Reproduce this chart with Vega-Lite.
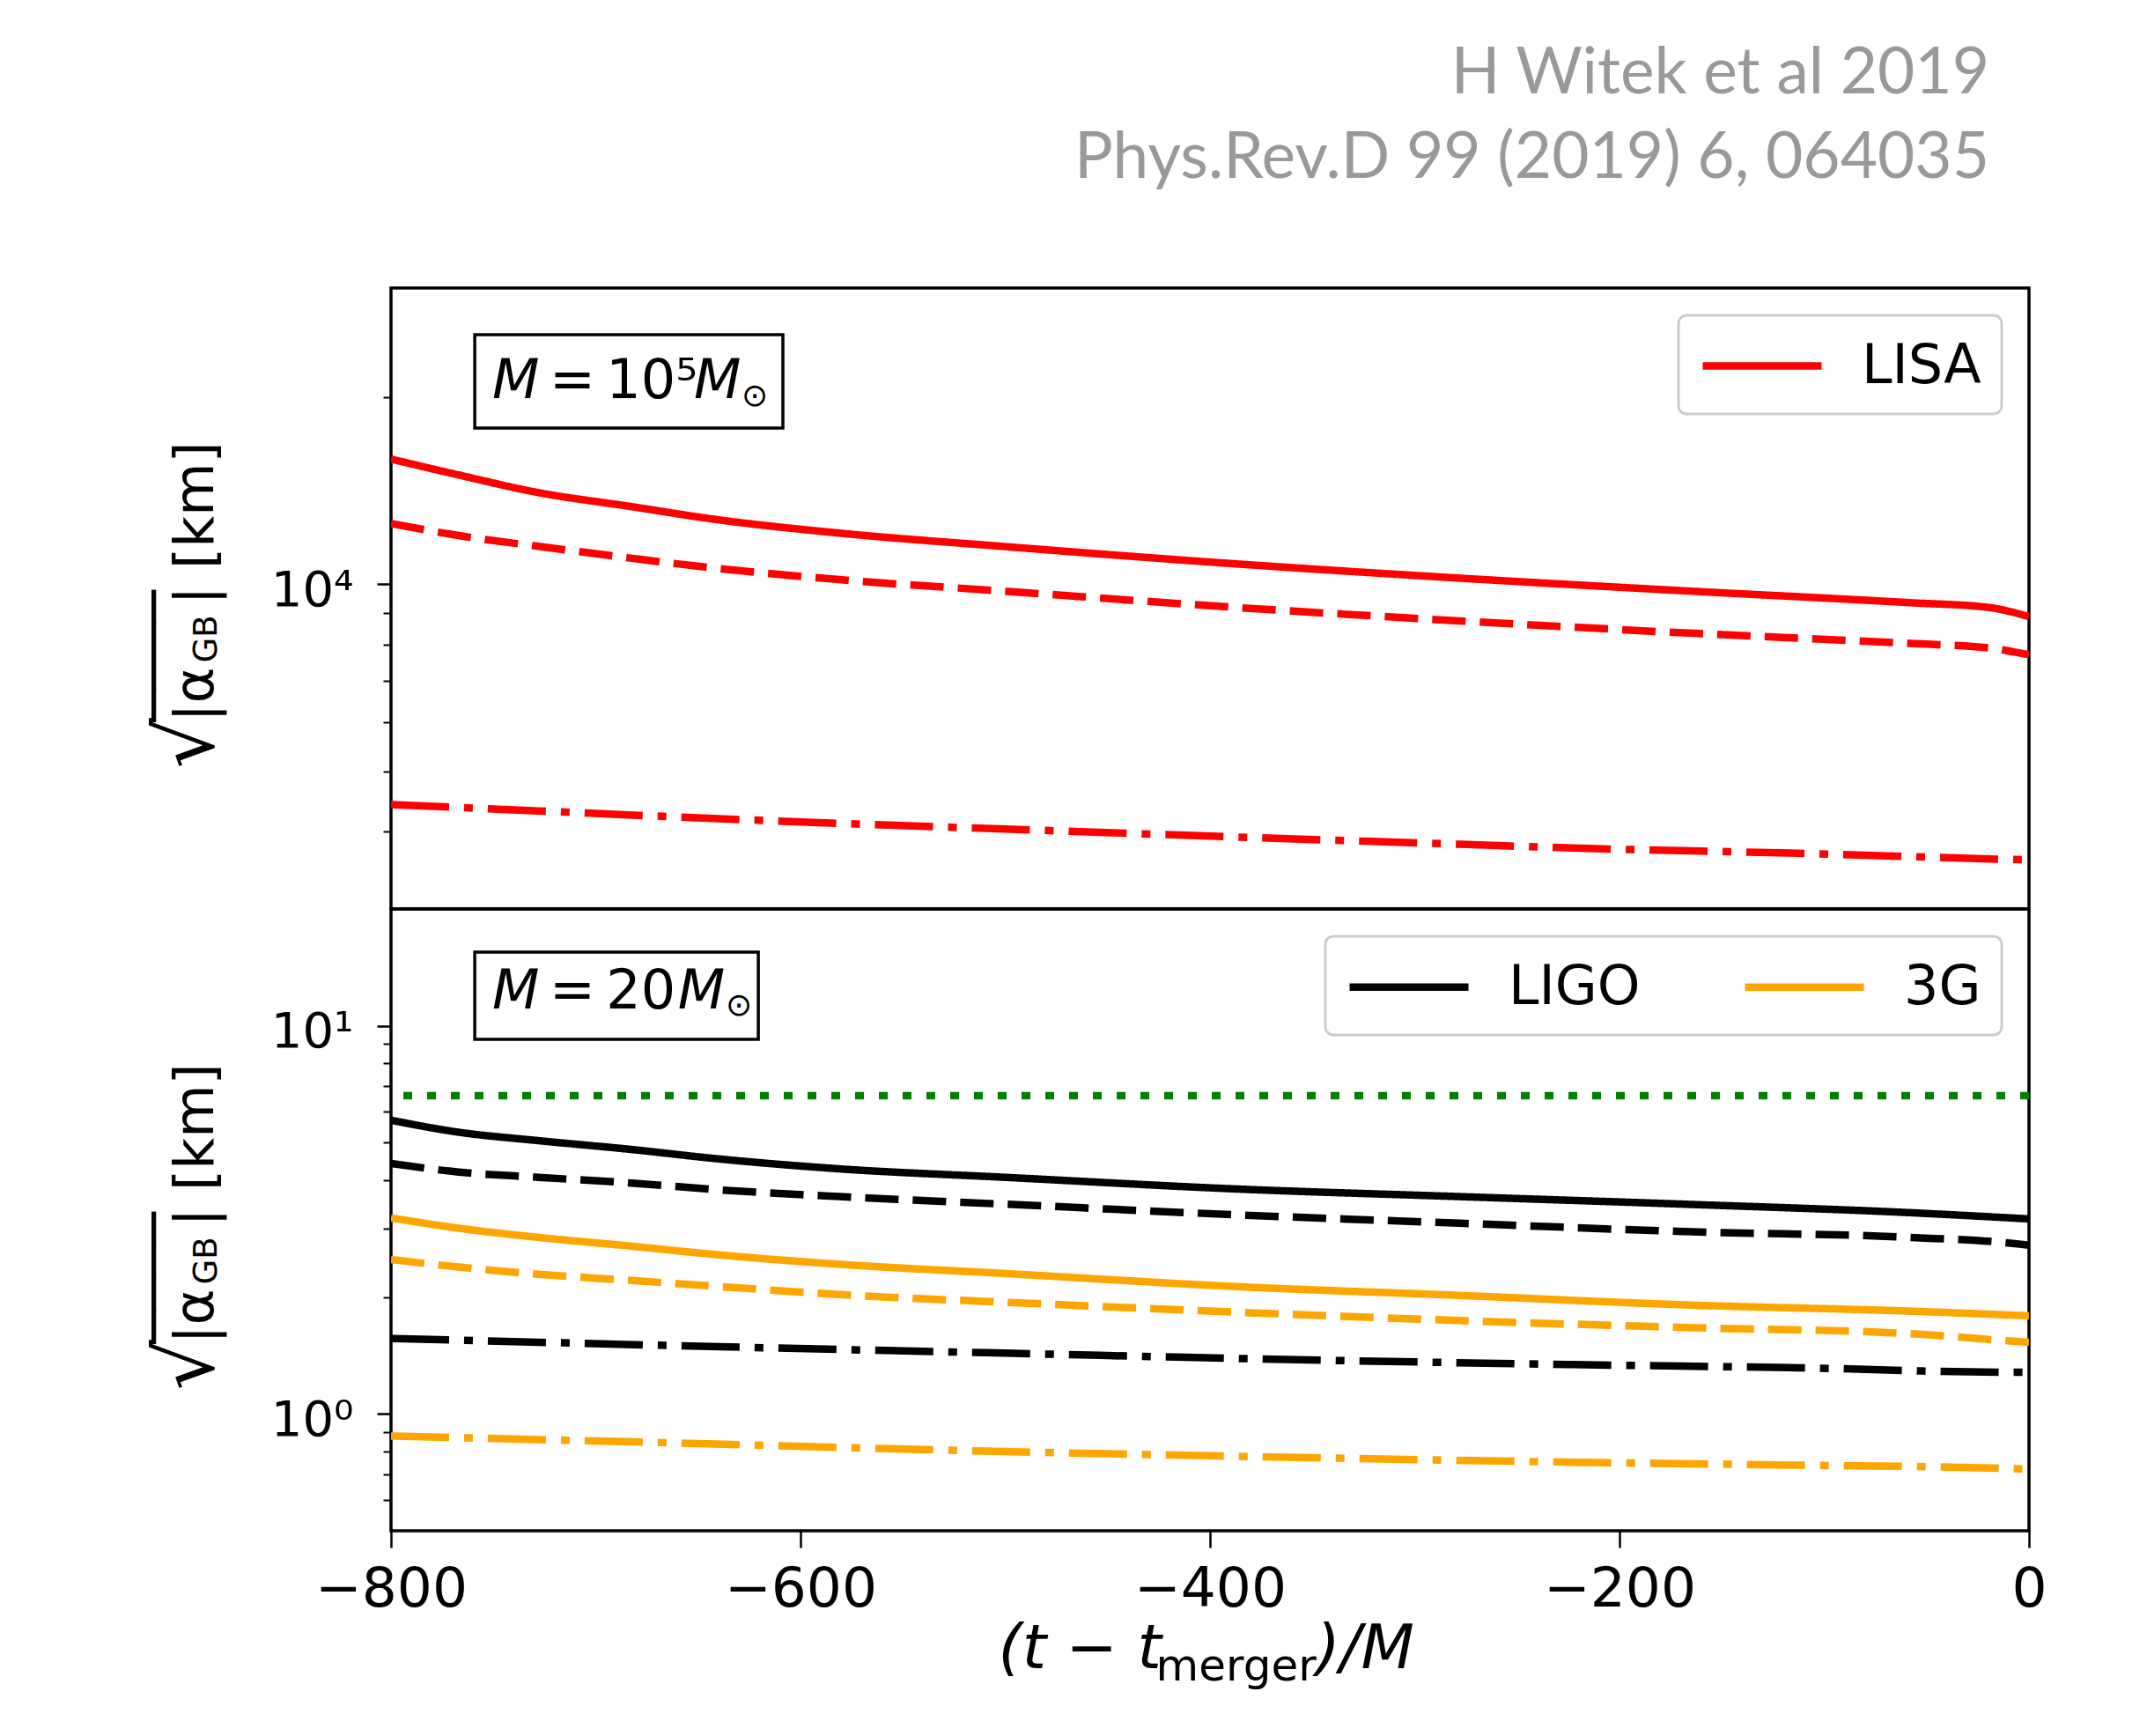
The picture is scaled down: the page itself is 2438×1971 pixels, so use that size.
{
  "$schema": "https://vega.github.io/schema/vega-lite/v6.json",
  "padding": {"left": 143, "top": 48, "right": 10, "bottom": 10},
  "background": "white",
  "title": {
    "text": ["H Witek et al 2019", "Phys.Rev.D 99 (2019) 6, 064035"],
    "anchor": "end",
    "frame": "group",
    "font": "Lato",
    "fontSize": 73,
    "fontWeight": "normal",
    "color": "#999999",
    "lineHeight": 96,
    "baseline": "alphabetic",
    "offset": 50,
    "dx": -45
  },
  "datasets": {
    "top": [
      {"det": "LISA", "style": "solid", "t": -800, "v": 15910},
      {"det": "LISA", "style": "solid", "t": -767, "v": 15000},
      {"det": "LISA", "style": "solid", "t": -728, "v": 14050},
      {"det": "LISA", "style": "solid", "t": -684, "v": 13360},
      {"det": "LISA", "style": "solid", "t": -640, "v": 12700},
      {"det": "LISA", "style": "solid", "t": -581, "v": 12090},
      {"det": "LISA", "style": "solid", "t": -500, "v": 11500},
      {"det": "LISA", "style": "solid", "t": -388, "v": 10790},
      {"det": "LISA", "style": "solid", "t": -278, "v": 10230},
      {"det": "LISA", "style": "solid", "t": -168, "v": 9760},
      {"det": "LISA", "style": "solid", "t": -58, "v": 9340},
      {"det": "LISA", "style": "solid", "t": -20, "v": 9180},
      {"det": "LISA", "style": "solid", "t": 0, "v": 8870},
      {"det": "LISA", "style": "dashed", "t": -800, "v": 12530},
      {"det": "LISA", "style": "dashed", "t": -767, "v": 11980},
      {"det": "LISA", "style": "dashed", "t": -728, "v": 11510},
      {"det": "LISA", "style": "dashed", "t": -684, "v": 11030},
      {"det": "LISA", "style": "dashed", "t": -640, "v": 10600},
      {"det": "LISA", "style": "dashed", "t": -581, "v": 10175},
      {"det": "LISA", "style": "dashed", "t": -500, "v": 9745},
      {"det": "LISA", "style": "dashed", "t": -388, "v": 9180},
      {"det": "LISA", "style": "dashed", "t": -278, "v": 8730},
      {"det": "LISA", "style": "dashed", "t": -168, "v": 8350},
      {"det": "LISA", "style": "dashed", "t": -58, "v": 8030},
      {"det": "LISA", "style": "dashed", "t": -20, "v": 7900},
      {"det": "LISA", "style": "dashed", "t": 0, "v": 7700},
      {"det": "LISA", "style": "dashdot", "t": -800, "v": 4417},
      {"det": "LISA", "style": "dashdot", "t": -728, "v": 4315},
      {"det": "LISA", "style": "dashdot", "t": -662, "v": 4222},
      {"det": "LISA", "style": "dashdot", "t": -581, "v": 4121},
      {"det": "LISA", "style": "dashdot", "t": -500, "v": 4035},
      {"det": "LISA", "style": "dashdot", "t": -388, "v": 3918},
      {"det": "LISA", "style": "dashdot", "t": -278, "v": 3813},
      {"det": "LISA", "style": "dashdot", "t": -223, "v": 3761},
      {"det": "LISA", "style": "dashdot", "t": -113, "v": 3688},
      {"det": "LISA", "style": "dashdot", "t": -8, "v": 3604},
      {"det": "LISA", "style": "dashdot", "t": 0, "v": 3598}
    ],
    "bottom": [
      {"det": "LIGO", "style": "solid", "t": -800, "v": 5.71},
      {"det": "LIGO", "style": "solid", "t": -767, "v": 5.32},
      {"det": "LIGO", "style": "solid", "t": -728, "v": 5.06},
      {"det": "LIGO", "style": "solid", "t": -684, "v": 4.81},
      {"det": "LIGO", "style": "solid", "t": -640, "v": 4.54},
      {"det": "LIGO", "style": "solid", "t": -581, "v": 4.28},
      {"det": "LIGO", "style": "solid", "t": -500, "v": 4.07},
      {"det": "LIGO", "style": "solid", "t": -388, "v": 3.80},
      {"det": "LIGO", "style": "solid", "t": -278, "v": 3.63},
      {"det": "LIGO", "style": "solid", "t": -168, "v": 3.47},
      {"det": "LIGO", "style": "solid", "t": -58, "v": 3.30},
      {"det": "LIGO", "style": "solid", "t": 0, "v": 3.18},
      {"det": "LIGO", "style": "dashed", "t": -800, "v": 4.42},
      {"det": "LIGO", "style": "dashed", "t": -767, "v": 4.20},
      {"det": "LIGO", "style": "dashed", "t": -728, "v": 4.07},
      {"det": "LIGO", "style": "dashed", "t": -684, "v": 3.94},
      {"det": "LIGO", "style": "dashed", "t": -640, "v": 3.78},
      {"det": "LIGO", "style": "dashed", "t": -581, "v": 3.63},
      {"det": "LIGO", "style": "dashed", "t": -500, "v": 3.47},
      {"det": "LIGO", "style": "dashed", "t": -388, "v": 3.26},
      {"det": "LIGO", "style": "dashed", "t": -278, "v": 3.10},
      {"det": "LIGO", "style": "dashed", "t": -168, "v": 2.95},
      {"det": "LIGO", "style": "dashed", "t": -58, "v": 2.85},
      {"det": "LIGO", "style": "dashed", "t": -8, "v": 2.75},
      {"det": "LIGO", "style": "dashed", "t": 0, "v": 2.72},
      {"det": "3G", "style": "solid", "t": -800, "v": 3.20},
      {"det": "3G", "style": "solid", "t": -767, "v": 3.01},
      {"det": "3G", "style": "solid", "t": -728, "v": 2.85},
      {"det": "3G", "style": "solid", "t": -684, "v": 2.71},
      {"det": "3G", "style": "solid", "t": -640, "v": 2.57},
      {"det": "3G", "style": "solid", "t": -581, "v": 2.43},
      {"det": "3G", "style": "solid", "t": -500, "v": 2.30},
      {"det": "3G", "style": "solid", "t": -388, "v": 2.13},
      {"det": "3G", "style": "solid", "t": -278, "v": 2.02},
      {"det": "3G", "style": "solid", "t": -168, "v": 1.91},
      {"det": "3G", "style": "solid", "t": -58, "v": 1.84},
      {"det": "3G", "style": "solid", "t": 0, "v": 1.79},
      {"det": "3G", "style": "dashed", "t": -800, "v": 2.50},
      {"det": "3G", "style": "dashed", "t": -767, "v": 2.39},
      {"det": "3G", "style": "dashed", "t": -728, "v": 2.29},
      {"det": "3G", "style": "dashed", "t": -684, "v": 2.21},
      {"det": "3G", "style": "dashed", "t": -640, "v": 2.13},
      {"det": "3G", "style": "dashed", "t": -581, "v": 2.03},
      {"det": "3G", "style": "dashed", "t": -500, "v": 1.94},
      {"det": "3G", "style": "dashed", "t": -388, "v": 1.83},
      {"det": "3G", "style": "dashed", "t": -278, "v": 1.74},
      {"det": "3G", "style": "dashed", "t": -168, "v": 1.67},
      {"det": "3G", "style": "dashed", "t": -58, "v": 1.61},
      {"det": "3G", "style": "dashed", "t": -8, "v": 1.54},
      {"det": "3G", "style": "dashed", "t": 0, "v": 1.53},
      {"det": "LIGO", "style": "dashdot", "t": -800, "v": 1.565},
      {"det": "LIGO", "style": "dashdot", "t": -728, "v": 1.53},
      {"det": "LIGO", "style": "dashdot", "t": -662, "v": 1.50},
      {"det": "LIGO", "style": "dashdot", "t": -581, "v": 1.466},
      {"det": "LIGO", "style": "dashdot", "t": -500, "v": 1.434},
      {"det": "LIGO", "style": "dashdot", "t": -388, "v": 1.39},
      {"det": "LIGO", "style": "dashdot", "t": -223, "v": 1.34},
      {"det": "LIGO", "style": "dashdot", "t": -113, "v": 1.315},
      {"det": "LIGO", "style": "dashdot", "t": -8, "v": 1.28},
      {"det": "LIGO", "style": "dashdot", "t": 0, "v": 1.28},
      {"det": "3G", "style": "dashdot", "t": -800, "v": 0.877},
      {"det": "3G", "style": "dashdot", "t": -728, "v": 0.859},
      {"det": "3G", "style": "dashdot", "t": -662, "v": 0.842},
      {"det": "3G", "style": "dashdot", "t": -581, "v": 0.82},
      {"det": "3G", "style": "dashdot", "t": -500, "v": 0.80},
      {"det": "3G", "style": "dashdot", "t": -388, "v": 0.778},
      {"det": "3G", "style": "dashdot", "t": -223, "v": 0.751},
      {"det": "3G", "style": "dashdot", "t": -113, "v": 0.738},
      {"det": "3G", "style": "dashdot", "t": -8, "v": 0.723},
      {"det": "3G", "style": "dashdot", "t": 0, "v": 0.72}
    ]
  },
  "spacing": 0,
  "bounds": "flush",
  "resolve": {"scale": {"color": "independent"}, "legend": {"color": "independent"}},
  "vconcat": [
    {
      "width": 1860,
      "height": 705,
      "resolve": {"axis": {"x": "independent", "y": "independent"}},
      "layer": [
        {
          "data": {"name": "top"},
          "mark": {"type": "line", "strokeWidth": 8.5, "interpolate": "monotone", "clip": true},
          "encoding": {
            "x": {"field": "t", "type": "quantitative", "scale": {"domain": [-800, 0], "nice": false, "zero": false}, "axis": null},
            "y": {"field": "v", "type": "quantitative", "scale": {"type": "log", "domain": [3000, 30000], "nice": false},
              "axis": {"orient": "left", "values": [10000], "labelExpr": "'10⁴'", "tickSize": 16, "tickWidth": 2.5, "labelFontSize": 56, "labelPadding": 27, "labelBaseline": "alphabetic", "labelOffset": 24, "title": "√", "titleFontSize": 90, "titleX": -203, "titleY": 545}},
            "color": {"field": "det", "type": "nominal", "scale": {"domain": ["LISA"], "range": ["#ff0000"]}, "legend": {"orient": "top-right", "offset": 31, "title": null}},
            "strokeDash": {"field": "style", "type": "nominal", "scale": {"domain": ["solid", "dashed", "dashdot"], "range": [[1, 0], [38, 16], [66, 17, 10, 17]]}, "legend": null}
          }
        },
        {
          "data": {"values": [{}]},
          "mark": {"type": "rect", "fill": "white", "stroke": "black", "strokeWidth": 3.5},
          "encoding": {
            "x": {"datum": -759.1, "type": "quantitative", "scale": {"domain": [-800, 0], "nice": false, "zero": false}, "axis": null},
            "x2": {"datum": -608.6},
            "y": {"datum": 25230, "type": "quantitative", "scale": {"type": "log", "domain": [3000, 30000], "nice": false},
              "axis": {"orient": "left", "values": [4000, 5000, 6000, 7000, 8000, 9000, 20000], "labels": false, "tickSize": 9, "tickWidth": 2, "title": ["────", "|α"], "titleFontSize": 62, "titleLineHeight": 46, "titleX": -249, "titleY": 492}},
            "y2": {"datum": 17845}
          }
        },
        {
          "data": {"values": [{}]},
          "mark": {"type": "text", "text": "M", "font": "DejaVu Sans", "fontStyle": "italic", "fontSize": 62, "align": "left", "baseline": "alphabetic", "color": "black"},
          "encoding": {
            "x": {"datum": -750.5, "type": "quantitative", "scale": {"domain": [-800, 0], "nice": false, "zero": false}, "axis": null},
            "y": {"datum": 19945, "type": "quantitative", "scale": {"type": "log", "domain": [3000, 30000], "nice": false},
              "axis": {"orient": "left", "ticks": false, "labels": false, "title": "GB", "titleFontSize": 37, "titleX": -199, "titleY": 425}}
          }
        },
        {
          "data": {"values": [{}]},
          "mark": {"type": "text", "text": "=\u200910⁵", "font": "DejaVu Sans", "fontSize": 62, "align": "left", "baseline": "alphabetic", "color": "black"},
          "encoding": {
            "x": {"datum": -722.6, "type": "quantitative", "scale": {"domain": [-800, 0], "nice": false, "zero": false}, "axis": null},
            "y": {"datum": 19945, "type": "quantitative", "scale": {"type": "log", "domain": [3000, 30000], "nice": false},
              "axis": {"orient": "left", "ticks": false, "labels": false, "title": "|  [km]", "titleFontSize": 62, "titleX": -203, "titleY": 359}}
          }
        },
        {
          "data": {"values": [{}]},
          "mark": {"type": "text", "text": "M", "font": "DejaVu Sans", "fontStyle": "italic", "fontSize": 62, "align": "left", "baseline": "alphabetic", "color": "black"},
          "encoding": {
            "x": {"datum": -652.0, "type": "quantitative", "scale": {"domain": [-800, 0], "nice": false, "zero": false}, "axis": null},
            "y": {"datum": 19945, "type": "quantitative", "scale": {"type": "log", "domain": [3000, 30000], "nice": false}, "axis": null}
          }
        },
        {
          "data": {"values": [{}]},
          "mark": {"type": "text", "text": "⊙", "font": "DejaVu Sans", "fontSize": 36, "align": "left", "baseline": "alphabetic", "color": "black"},
          "encoding": {
            "x": {"datum": -628.8, "type": "quantitative", "scale": {"domain": [-800, 0], "nice": false, "zero": false}, "axis": null},
            "y": {"datum": 19370, "type": "quantitative", "scale": {"type": "log", "domain": [3000, 30000], "nice": false}, "axis": null}
          }
        }
      ]
    },
    {
      "width": 1860,
      "height": 706,
      "resolve": {"axis": {"x": "independent", "y": "independent"}},
      "layer": [
        {
          "data": {"name": "bottom"},
          "mark": {"type": "line", "strokeWidth": 8.5, "interpolate": "monotone", "clip": true},
          "encoding": {
            "x": {"field": "t", "type": "quantitative", "scale": {"domain": [-800, 0], "nice": false, "zero": false},
              "axis": {"orient": "bottom", "values": [-800, -600, -400, -200, 0], "labelExpr": "replace(datum.label, '-', '−')", "tickSize": 19, "tickWidth": 2.5, "labelFontSize": 63, "labelBaseline": "alphabetic", "labelPadding": 66, "title": "(t − t", "titleFontSize": 70, "titleFontStyle": "italic", "titleX": 689, "titleY": 155}},
            "y": {"field": "v", "type": "quantitative", "scale": {"type": "log", "domain": [0.5, 20], "nice": false},
              "axis": {"orient": "left", "values": [1, 10], "labelExpr": "datum.value < 5 ? '10⁰' : '10¹'", "tickSize": 16, "tickWidth": 2.5, "labelFontSize": 56, "labelPadding": 27, "labelBaseline": "alphabetic", "labelOffset": 24, "title": "√", "titleFontSize": 90, "titleX": -203, "titleY": 546}},
            "color": {"field": "det", "type": "nominal", "scale": {"domain": ["LIGO", "3G"], "range": ["#000000", "#ffa500"]}, "legend": {"orient": "top-right", "offset": 31, "title": null, "direction": "horizontal", "columns": 2}},
            "strokeDash": {"field": "style", "type": "nominal", "scale": {"domain": ["solid", "dashed", "dashdot"], "range": [[1, 0], [38, 16], [66, 17, 10, 17]]}, "legend": null}
          }
        },
        {
          "data": {"values": [{}]},
          "mark": {"type": "rule", "color": "#008000", "strokeWidth": 8.5, "strokeDash": [10, 17]},
          "encoding": {
            "y": {"datum": 6.61, "type": "quantitative", "scale": {"type": "log", "domain": [0.5, 20], "nice": false},
              "axis": {"orient": "left", "values": [0.6, 0.7, 0.8, 0.9, 2, 3, 4, 5, 6, 7, 8, 9], "labels": false, "tickSize": 9, "tickWidth": 2, "title": ["────", "|α"], "titleFontSize": 62, "titleLineHeight": 46, "titleX": -249, "titleY": 493}}
          }
        },
        {
          "data": {"values": [{}]},
          "mark": {"type": "rect", "fill": "white", "stroke": "black", "strokeWidth": 3.5},
          "encoding": {
            "x": {"datum": -759.1, "type": "quantitative", "scale": {"domain": [-800, 0], "nice": false, "zero": false},
              "axis": {"orient": "bottom", "ticks": false, "labels": false, "title": "merger", "titleFontSize": 50, "titleX": 868, "titleY": 169}},
            "x2": {"datum": -620.6},
            "y": {"datum": 15.48, "type": "quantitative", "scale": {"type": "log", "domain": [0.5, 20], "nice": false},
              "axis": {"orient": "left", "ticks": false, "labels": false, "title": "GB", "titleFontSize": 37, "titleX": -199, "titleY": 426}},
            "y2": {"datum": 9.23}
          }
        },
        {
          "data": {"values": [{}]},
          "mark": {"type": "text", "text": "M", "font": "DejaVu Sans", "fontStyle": "italic", "fontSize": 62, "align": "left", "baseline": "alphabetic", "color": "black"},
          "encoding": {
            "x": {"datum": -750.5, "type": "quantitative", "scale": {"domain": [-800, 0], "nice": false, "zero": false},
              "axis": {"orient": "bottom", "ticks": false, "labels": false, "title": ")/M", "titleFontSize": 70, "titleFontStyle": "italic", "titleX": 1050, "titleY": 155}},
            "y": {"datum": 11.11, "type": "quantitative", "scale": {"type": "log", "domain": [0.5, 20], "nice": false},
              "axis": {"orient": "left", "ticks": false, "labels": false, "title": "|  [km]", "titleFontSize": 62, "titleX": -203, "titleY": 360}}
          }
        },
        {
          "data": {"values": [{}]},
          "mark": {"type": "text", "text": "=\u200920", "font": "DejaVu Sans", "fontSize": 62, "align": "left", "baseline": "alphabetic", "color": "black"},
          "encoding": {
            "x": {"datum": -722.6, "type": "quantitative", "scale": {"domain": [-800, 0], "nice": false, "zero": false}, "axis": null},
            "y": {"datum": 11.11, "type": "quantitative", "scale": {"type": "log", "domain": [0.5, 20], "nice": false}, "axis": null}
          }
        },
        {
          "data": {"values": [{}]},
          "mark": {"type": "text", "text": "M", "font": "DejaVu Sans", "fontStyle": "italic", "fontSize": 62, "align": "left", "baseline": "alphabetic", "color": "black"},
          "encoding": {
            "x": {"datum": -659.9, "type": "quantitative", "scale": {"domain": [-800, 0], "nice": false, "zero": false}, "axis": null},
            "y": {"datum": 11.11, "type": "quantitative", "scale": {"type": "log", "domain": [0.5, 20], "nice": false}, "axis": null}
          }
        },
        {
          "data": {"values": [{}]},
          "mark": {"type": "text", "text": "⊙", "font": "DejaVu Sans", "fontSize": 36, "align": "left", "baseline": "alphabetic", "color": "black"},
          "encoding": {
            "x": {"datum": -636.6, "type": "quantitative", "scale": {"domain": [-800, 0], "nice": false, "zero": false}, "axis": null},
            "y": {"datum": 10.62, "type": "quantitative", "scale": {"type": "log", "domain": [0.5, 20], "nice": false}, "axis": null}
          }
        }
      ]
    }
  ],
  "config": {
    "view": {"stroke": "black", "strokeWidth": 3.5},
    "axis": {"grid": false, "domain": false, "tickColor": "black", "labelColor": "black", "titleColor": "black", "titleFont": "DejaVu Sans", "titleFontWeight": "normal", "labelFont": "DejaVu Sans", "labelFlush": false, "labelOverlap": false, "labelBound": false},
    "axisY": {"titleAngle": 270, "titleAlign": "left", "titleBaseline": "alphabetic"},
    "axisX": {"titleAngle": 0, "titleAlign": "left", "titleBaseline": "alphabetic"},
    "legend": {"symbolType": "M-1,0H3.5", "symbolSize": 3600, "symbolStrokeWidth": 8.5, "labelFont": "DejaVu Sans", "labelFontSize": 62, "labelColor": "black", "labelOffset": 116, "labelLimit": 400, "padding": 23, "strokeColor": "#cccccc", "strokeWidth": 3, "cornerRadius": 9, "fillColor": "white", "columnPadding": 101, "rowPadding": 0, "symbolOpacity": 1}
  }
}
